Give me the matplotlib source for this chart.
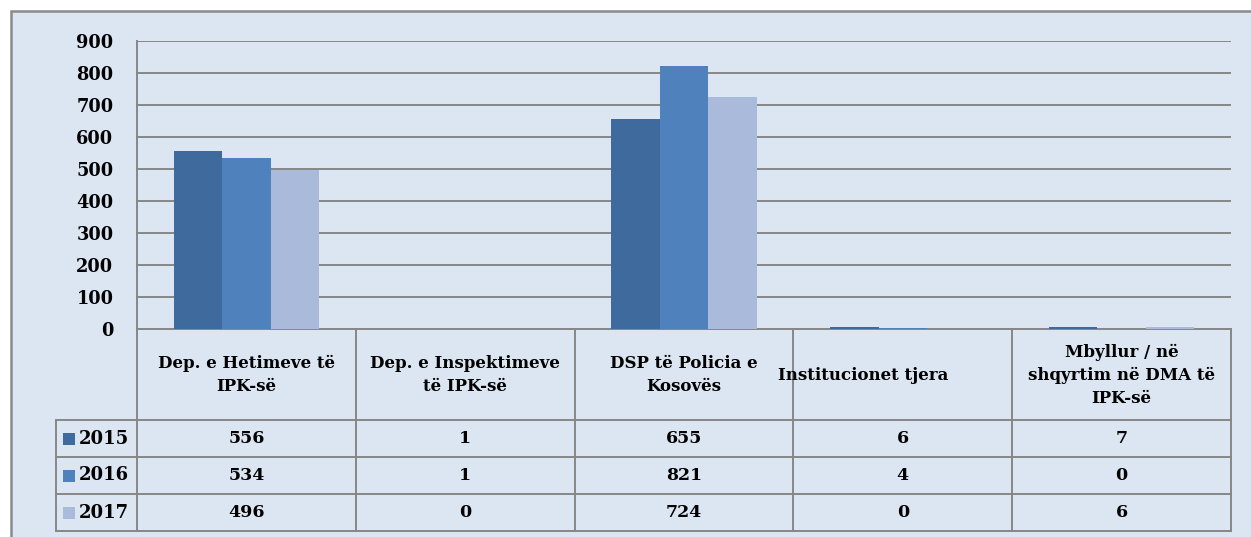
import matplotlib
matplotlib.use("Agg")
import matplotlib.pyplot as plt
import numpy as np
from matplotlib.patches import Rectangle

# te dhenat
kategorite = ["Dep. e Hetimeve të\nIPK-së",
              "Dep. e Inspektimeve\ntë IPK-së",
              "DSP të Policia e\nKosovës",
              "Institucionet tjera",
              "Mbyllur / në\nshqyrtim në DMA të\nIPK-së"]
vitet = ["2015", "2016", "2017"]
v2015 = [556, 1, 655, 6, 7]
v2016 = [534, 1, 821, 4, 0]
v2017 = [496, 0, 724, 0, 6]
yticks = [0, 100, 200, 300, 400, 500, 600, 700, 800, 900]

ngjyrat = ["#3F6A9E", "#4F81BD", "#AABADA"]
sfondi = "#DCE6F2"
gri = "#878787"

plt.rcParams["font.family"] = ["DejaVu Serif"]
plt.rcParams["font.weight"] = "bold"

W, H = 1251, 537
fig = plt.figure(figsize=(W / 100, H / 100), dpi=100)
fig.patch.set_facecolor("white")

# shtresa e sfondit (koordinata ne piksel)
bg = fig.add_axes([0, 0, 1, 1], zorder=0)
bg.set_xlim(0, W)
bg.set_ylim(H, 0)
bg.axis("off")
bg.add_patch(Rectangle((11, 11), W + 40, H + 40, fc=sfondi, ec="#8A8A8A", lw=1.8))

# zona e grafikut
x0, x1 = 137, 1231
ytop, y0 = 41, 329
ax = fig.add_axes([x0 / W, (H - y0) / H, (x1 - x0) / W, (y0 - ytop) / H], zorder=1)
ax.set_facecolor("none")

x = np.arange(len(kategorite))
w = 0.222
seri = [v2015, v2016, v2017]
for i, vals in enumerate(seri):
    ax.bar(x + (i - 1) * w, vals, w, color=ngjyrat[i], zorder=3)

ax.set_xlim(-0.5, len(kategorite) - 0.5)
ax.set_ylim(0, 900)
ax.set_yticks(yticks)
ax.set_yticklabels([str(t) for t in yticks], fontsize=12.8, fontweight="bold")
ax.tick_params(axis="y", length=0, pad=17)
ax.set_xticks([])
ax.grid(axis="y", color=gri, lw=1.4, zorder=1)
for s in ["top", "right", "bottom"]:
    ax.spines[s].set_visible(False)
ax.spines["left"].set_color(gri)
ax.spines["left"].set_linewidth(1.4)

# tabela e te dhenave
kol = np.linspace(x0, x1, len(kategorite) + 1)
hb = 420
rh = 37
rreshta = [hb + k * rh for k in range(len(vitet) + 1)]
leg_x = 56
lw = 1.4

# vijat e tabeles
bg.plot([x0, x1], [y0, y0], color=gri, lw=lw, zorder=2)
for xe in kol:
    bg.plot([xe, xe], [y0, rreshta[-1]], color=gri, lw=lw, zorder=2)
for yr in rreshta:
    bg.plot([leg_x, x1], [yr, yr], color=gri, lw=lw, zorder=2)
bg.plot([leg_x, leg_x], [hb, rreshta[-1]], color=gri, lw=lw, zorder=2)

# titujt e kolonave
for j, k in enumerate(kategorite):
    cx = (kol[j] + kol[j + 1]) / 2
    if k == "Institucionet tjera":
        bg.text(kol[j] - 15, 376, k, ha="left", va="center", fontsize=12, fontweight="bold")
    else:
        bg.text(cx, 375, k, ha="center", va="center", fontsize=12, fontweight="bold",
                linespacing=1.45, multialignment="center")

# rreshtat me vlera
for i, (vit, vals) in enumerate(zip(vitet, seri)):
    cy = (rreshta[i] + rreshta[i + 1]) / 2
    bg.add_patch(Rectangle((63, cy - 6), 12, 12, fc=ngjyrat[i], ec="none"))
    bg.text(79, cy, vit, ha="left", va="center", fontsize=13, fontweight="bold")
    for j, v in enumerate(vals):
        cx = (kol[j] + kol[j + 1]) / 2
        bg.text(cx, cy, str(v), ha="center", va="center", fontsize=12.5, fontweight="bold")

fig.savefig("out.png", dpi=100)
